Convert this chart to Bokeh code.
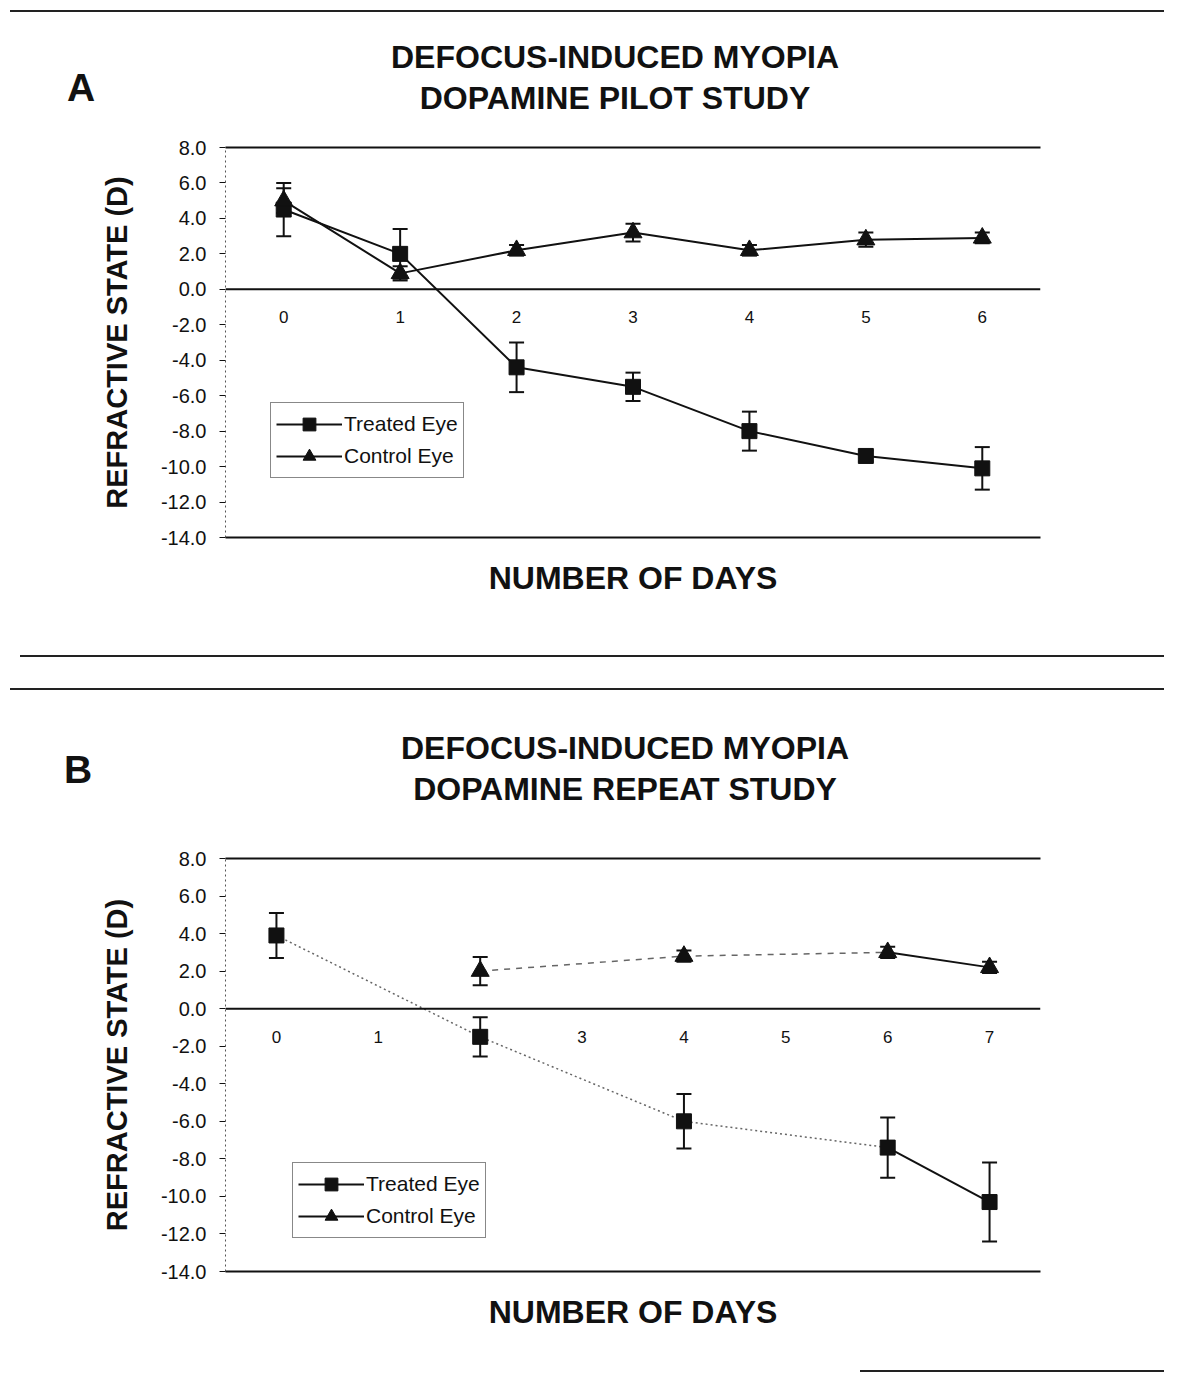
import numpy as np
from bokeh.plotting import figure
from bokeh.models import (Range1d, FixedTicker, NumeralTickFormatter, LinearAxis,
                          Span, Whisker, ColumnDataSource, Legend, LegendItem, TeeHead, Div)
from bokeh.layouts import column
from bokeh.embed import file_html
from bokeh.resources import INLINE
from bokeh.core.properties import value

# ---------------- data ----------------
y_ticks = [-14, -12, -10, -8, -6, -4, -2, 0, 2, 4, 6, 8]

# Panel A: pilot study
title_a = ["DEFOCUS-INDUCED MYOPIA", "DOPAMINE PILOT STUDY"]
days_a = [0, 1, 2, 3, 4, 5, 6]
day_labels_a = ["0", "1", "2", "3", "4", "5", "6"]
treated_a = [4.5, 2.0, -4.4, -5.5, -8.0, -9.4, -10.1]
treated_err_a = [1.5, 1.4, 1.4, 0.8, 1.1, 0.3, 1.2]
control_a = [5.0, 0.9, 2.2, 3.2, 2.2, 2.8, 2.9]
control_err_a = [0.7, 0.4, 0.3, 0.5, 0.3, 0.4, 0.3]

# Panel B: repeat study
title_b = ["DEFOCUS-INDUCED MYOPIA", "DOPAMINE REPEAT STUDY"]
days_b = [0, 1, 2, 3, 4, 5, 6, 7]
day_labels_b = ["0", "1", "2", "3", "4", "5", "6", "7"]
treated_days_b = [0, 2, 4, 6, 7]
treated_b = [3.9, -1.5, -6.0, -7.4, -10.3]
treated_err_b = [1.2, 1.05, 1.45, 1.6, 2.1]
control_days_b = [2, 4, 6, 7]
control_b = [2.0, 2.8, 3.0, 2.2]
control_err_b = [0.75, 0.3, 0.3, 0.3]

FONT = "Liberation Sans"
INK = "#111111"
W = 1164
BORDER_L, BORDER_R = 225, 124


def base_figure(height, xr, top, bottom):
    p = figure(width=W, height=height, x_range=Range1d(*xr), y_range=Range1d(-14, 8),
               output_backend="svg", toolbar_location=None,
               min_border_left=BORDER_L, min_border_right=BORDER_R,
               min_border_top=top, min_border_bottom=bottom)
    p.outline_line_color = None
    p.xgrid.visible = False
    p.ygrid.visible = False
    p.background_fill_color = "white"
    p.border_fill_color = "white"

    ya = p.yaxis[0]
    ya.ticker = FixedTicker(ticks=y_ticks)
    ya.formatter = NumeralTickFormatter(format="0.0")
    ya.axis_line_color = "#555555"
    ya.axis_line_dash = "2 3"
    ya.axis_line_width = 1
    ya.major_tick_out = 6
    ya.major_tick_in = 0
    ya.major_tick_line_color = INK
    ya.minor_tick_line_color = None
    ya.major_label_standoff = 13
    ya.major_label_text_font = FONT
    ya.major_label_text_font_size = "20px"
    ya.major_label_text_color = INK
    ya.axis_label = "REFRACTIVE STATE (D)"
    ya.axis_label_text_font = FONT
    ya.axis_label_text_font_style = "bold"
    ya.axis_label_text_font_size = "29px"
    ya.axis_label_text_color = INK
    ya.axis_label_standoff = 25

    xa = p.xaxis[0]
    xa.ticker = FixedTicker(ticks=[])
    xa.axis_line_width = 2
    xa.axis_line_color = INK
    xa.major_tick_line_color = None
    xa.minor_tick_line_color = None
    xa.axis_label = "NUMBER OF DAYS"
    xa.axis_label_text_font = FONT
    xa.axis_label_text_font_style = "bold"
    xa.axis_label_text_font_size = "32px"
    xa.axis_label_text_color = INK
    xa.axis_label_standoff = 22

    top_axis = LinearAxis(ticker=FixedTicker(ticks=[]), axis_line_width=2, axis_line_color=INK,
                          major_tick_line_color=None, minor_tick_line_color=None)
    p.add_layout(top_axis, "above")

    p.add_layout(Span(location=0, dimension="width", line_color=INK, line_width=2))
    return p


def header(letter, lines, height, letter_xy, title_cx, line_ys):
    lx, ly = letter_xy
    html = ('<div style="position:relative;width:%dpx;height:%dpx;font-family:\'%s\';'
            'font-weight:bold;color:%s;">' % (W, height, FONT, INK))
    html += ('<div style="position:absolute;left:%dpx;top:%dpx;width:60px;text-align:center;'
             'font-size:39px;line-height:1;">%s</div>' % (lx - 30, ly - 20, letter))
    for txt, y in zip(lines, line_ys):
        html += ('<div style="position:absolute;left:%dpx;top:%dpx;width:700px;text-align:center;'
                 'font-size:32px;line-height:1;white-space:nowrap;">%s</div>'
                 % (title_cx - 350, y - 16, txt))
    html += '</div>'
    return Div(text=html, width=W, height=height, margin=(0, 0, 0, 0))


def add_day_labels(p, days, labels, offset):
    p.text(x=days, y=[0] * len(days), text=labels, y_offset=offset,
           text_align="center", text_baseline="top",
           text_font=value(FONT), text_font_size="17px", text_color=INK)


def add_errors(p, xs, ys, errs):
    ys = np.array(ys)
    errs = np.array(errs)
    src = ColumnDataSource(dict(x=xs, upper=ys + errs, lower=ys - errs))
    p.add_layout(Whisker(base="x", upper="upper", lower="lower", source=src, dimension="height",
                         line_color=INK, line_width=2,
                         upper_head=TeeHead(size=15, line_width=2, line_color=INK),
                         lower_head=TeeHead(size=15, line_width=2, line_color=INK)))


def make_legend(items, loc):
    return Legend(items=items, location=loc, border_line_color=INK, border_line_width=1.5,
                  background_fill_color="white", background_fill_alpha=1.0,
                  label_text_font=FONT, label_text_font_size="21px", label_text_color=INK,
                  glyph_width=66, glyph_height=32, label_standoff=2, padding=5, spacing=0,
                  margin=0)


# ---------------- Panel A ----------------
head_a = header("A", title_a, 115, (81, 78), 615, (47, 88))
pa = base_figure(530, (-0.5, 6.5), 22, 118)
add_day_labels(pa, days_a, day_labels_a, 22)
add_errors(pa, days_a, treated_a, treated_err_a)
add_errors(pa, days_a, control_a, control_err_a)
ta_line = pa.line(days_a, treated_a, line_color=INK, line_width=2)
ta_pts = pa.scatter(days_a, treated_a, marker="square", size=15, fill_color=INK, line_color=INK)
ca_line = pa.line(days_a, control_a, line_color=INK, line_width=2)
ca_pts = pa.scatter(days_a, control_a, marker="triangle", size=18, fill_color=INK, line_color=INK)
pa.add_layout(make_legend([LegendItem(label="Treated Eye", renderers=[ta_line, ta_pts]),
                           LegendItem(label="Control Eye", renderers=[ca_line, ca_pts])],
                          (45, 59)))

# ---------------- Panel B ----------------
head_b = header("B", title_b, 150, (78, 80), 625, (58, 99))
pb = base_figure(520, (-0.5, 7.5), 18, 89)
add_day_labels(pb, days_b, day_labels_b, 22)
add_errors(pb, treated_days_b, treated_b, treated_err_b)
add_errors(pb, control_days_b, control_b, control_err_b)
pb.line(treated_days_b[:4], treated_b[:4], line_color="#666666", line_width=1.5, line_dash="2 3")
tb_line = pb.line(treated_days_b[3:], treated_b[3:], line_color=INK, line_width=2)
tb_pts = pb.scatter(treated_days_b, treated_b, marker="square", size=15, fill_color=INK, line_color=INK)
pb.line(control_days_b[:3], control_b[:3], line_color="#666666", line_width=1.5, line_dash="6 6")
cb_line = pb.line(control_days_b[2:], control_b[2:], line_color=INK, line_width=2)
cb_pts = pb.scatter(control_days_b, control_b, marker="triangle", size=18, fill_color=INK, line_color=INK)
pb.add_layout(make_legend([LegendItem(label="Treated Eye", renderers=[tb_line, tb_pts]),
                           LegendItem(label="Control Eye", renderers=[cb_line, cb_pts])],
                          (67, 33)))

# ---------------- separators ----------------
bar = '<div style="width:%dpx;height:2px;background:#222;margin-left:%dpx"></div>'
d0 = Div(text='<div style="height:6px"></div>' + bar % (W - 10, 10),
         width=W, height=10, margin=(0, 0, 0, 0))
d1 = Div(text=(bar % (W - 20, 20)) + '<div style="height:31px"></div>' + (bar % (W - 10, 10)),
         width=W, height=35, margin=(0, 0, 0, 0))
d2 = Div(text='<div style="height:4px"></div>' + bar % (W - 860, 860),
         width=W, height=8, margin=(0, 0, 0, 0))

layout = column(d0, head_a, pa, d1, head_b, pb, d2, spacing=0)

with open("out.html", "w") as f:
    f.write(file_html(layout, INLINE))
